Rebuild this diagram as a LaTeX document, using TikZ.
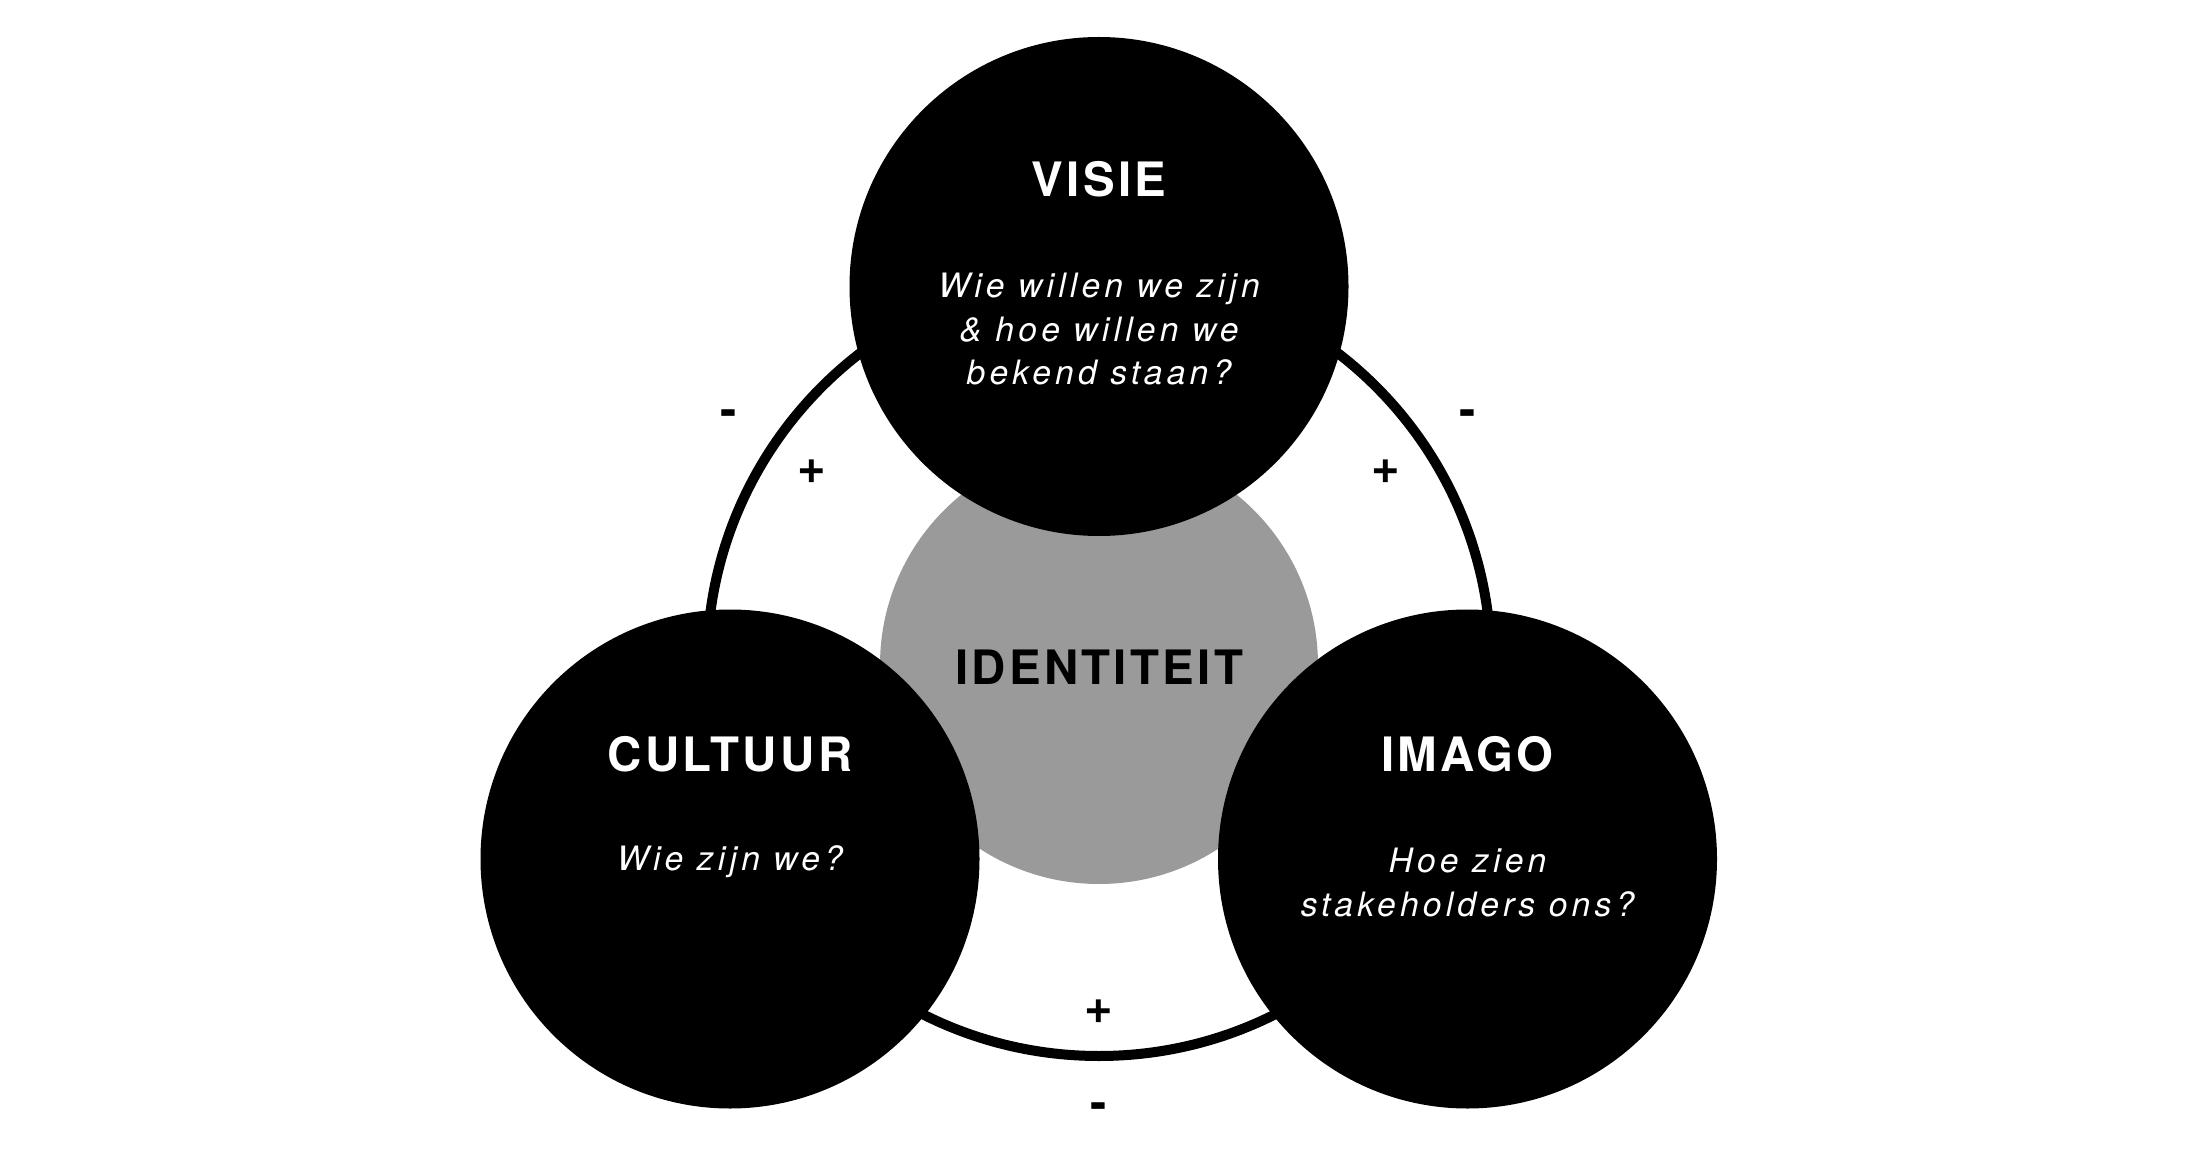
\documentclass[tikz,border=0pt]{standalone}
\usepackage{fontspec}
\setmainfont{TeX Gyre Heros}
\newfontfamily\titlefont[LetterSpace=7]{TeX Gyre Heros}
\newfontfamily\signfont{TeX Gyre Heros}
\newfontfamily\qfont[LetterSpace=12.5]{TeX Gyre Heros}
\definecolor{midgray}{HTML}{9A9A9A}
\begin{document}
\begin{tikzpicture}[x=0.5pt,y=-0.5pt,
  bigcirc/.style={circle, fill=black, minimum size=249.5pt, inner sep=0pt},
  ringline/.style={draw=black, line width=5pt},
  title/.style={text=white, font=\titlefont\bfseries\fontsize{23.7pt}{28pt}\selectfont, anchor=base, inner sep=0pt},
  centertitle/.style={text=black, font=\titlefont\bfseries\fontsize{23.7pt}{28pt}\selectfont, anchor=base, inner sep=0pt},
  question/.style={text=white, font=\qfont\itshape\fontsize{16.8pt}{20pt}\selectfont, anchor=base, inner sep=0pt},
  sign/.style={text=black, font=\signfont\bfseries\fontsize{24.5pt}{28pt}\selectfont, anchor=base, inner sep=0pt},
]
\useasboundingbox (0,0) rectangle (2202,1166);
\fill[white] (0,0) rectangle (2202,1166);
% ring
\coordinate (ringc) at (1099,664);
\draw[ringline] (ringc) circle[radius=196pt];
% grey centre
\node[circle, fill=midgray, minimum size=219pt, inner sep=0pt] (identiteit) at (1099,665) {};
% black circles
\node[bigcirc] (visie) at (1099,286.5) {};
\node[bigcirc] (cultuur) at (730,859) {};
\node[bigcirc] (imago) at (1467.5,859) {};
% titles
\node[title] (tvisie) at (1099,197) {VISIE};
\node[title] (tcultuur) at (730,771) {CULTUUR};
\node[title] (timago) at (1467.5,771) {IMAGO};
\node[centertitle] (tidentiteit) at (1099,684) {IDENTITEIT};
% questions
\node[question] (qv1) at (1099,298) {Wie willen we zijn};
\node[question] (qv2) at (1099,341.7) {\& hoe willen we};
\node[question] (qv3) at (1099,385) {bekend staan?};
\node[question] (qc1) at (730,870) {Wie zijn we?};
\node[question] (qi1) at (1467.5,872) {Hoe zien};
\node[question] (qi2) at (1467.5,916) {stakeholders ons?};
% signs
\node[sign] (ml) at (729,426) {-};
\node[sign] (pl) at (812,483) {+};
\node[sign] (mr) at (1468,426) {-};
\node[sign] (pr) at (1386,483) {+};
\node[sign] (pb) at (1099,1023) {+};
\node[sign] (mb) at (1099,1119) {-};
\end{tikzpicture}
\end{document}
